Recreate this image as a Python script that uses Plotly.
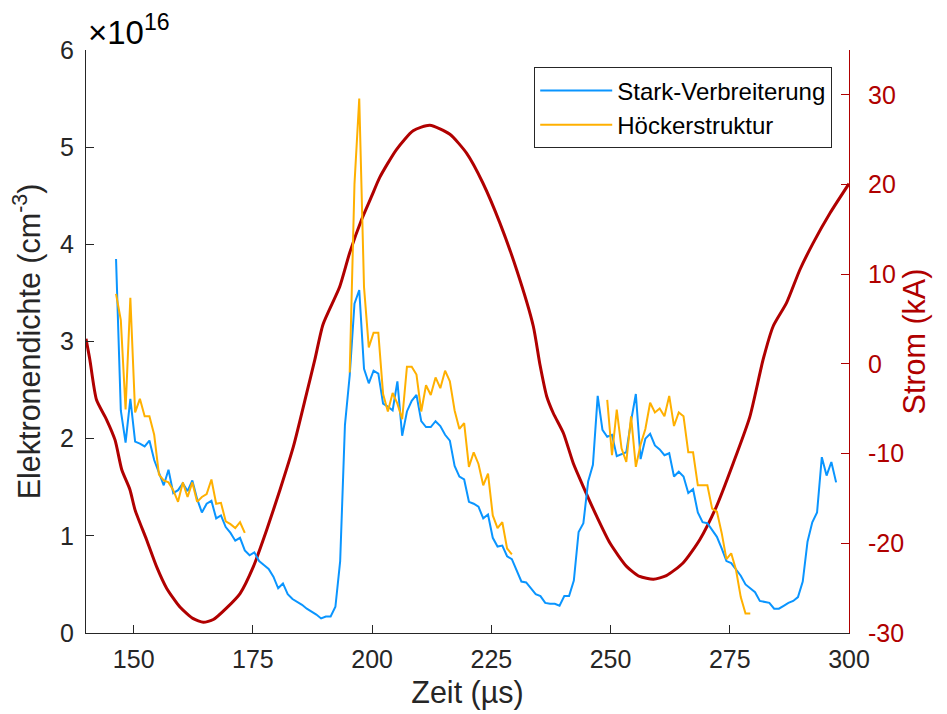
import plotly.graph_objects as go

# --- Electron density samples, 1 us spacing starting at t0 (values in 1e16 cm^-3) ---
t0_us = 146.3
dt_us = 1.0

stark_density = [
    3.85, 2.29, 1.96, 2.41, 1.97, 1.95, 1.92, 1.98, 1.78, 1.64,
    1.52, 1.68, 1.44, 1.47, 1.54, 1.46, 1.57, 1.38, 1.24, 1.33,
    1.36, 1.18, 1.21, 1.09, 1.03, 0.95, 0.98, 0.85, 0.80, 0.83,
    0.74, 0.70, 0.66, 0.58, 0.46, 0.51, 0.40, 0.35, 0.32, 0.29,
    0.25, 0.22, 0.19, 0.15, 0.17, 0.17, 0.27, 0.74, 2.14, 2.65,
    3.39, 3.53, 2.72, 2.57, 2.70, 2.67, 2.36, 2.33, 2.29, 2.59,
    2.03, 2.28, 2.39, 2.45, 2.18, 2.12, 2.12, 2.18, 2.13, 2.04,
    1.98, 1.72, 1.61, 1.58, 1.35, 1.33, 1.30, 1.18, 1.22, 0.98,
    0.89, 0.90, 0.79, 0.76, 0.65, 0.53, 0.52, 0.46, 0.40, 0.38,
    0.31, 0.30, 0.30, 0.28, 0.38, 0.38, 0.54, 1.04, 1.13, 1.56,
    1.73, 2.44, 2.09, 2.02, 2.04, 1.82, 1.84, 1.86, 2.18, 2.46,
    1.79, 2.00, 2.05, 1.93, 1.89, 1.83, 1.85, 1.61, 1.66, 1.61,
    1.44, 1.48, 1.24, 1.14, 1.13, 1.06, 0.99, 0.87, 0.74, 0.72,
    0.65, 0.59, 0.50, 0.46, 0.42, 0.33, 0.32, 0.31, 0.25, 0.25,
    0.28, 0.31, 0.33, 0.37, 0.53, 0.94, 1.14, 1.24, 1.81, 1.62,
    1.76, 1.55,
]

hoecker_density = (
    [3.49, 3.22, 2.30, 3.45, 2.27, 2.41, 2.23, 2.23, 2.04, 1.63,
     1.57, 1.55, 1.47, 1.35, 1.55, 1.40, 1.55, 1.35, 1.40, 1.43,
     1.58, 1.33, 1.34, 1.15, 1.12, 1.08, 1.14, 1.03]
    + [None] * 21
    + [2.68, 4.62, 5.50, 3.56, 2.94, 3.09, 3.09, 2.46, 2.28, 2.47,
       2.36, 2.20, 2.74, 2.74, 2.66, 2.28, 2.55, 2.45, 2.63, 2.52,
       2.70, 2.59, 2.29, 2.10, 2.16, 1.71, 1.86, 1.74, 1.52, 1.64,
       1.21, 1.08, 1.14, 0.87, 0.81]
    + [None] * 19
    + [2.40, 1.83, 2.30, 1.90, 1.76, 2.23, 1.71, 1.94, 2.10, 2.37,
       2.27, 2.31, 2.23, 2.44, 2.13, 2.27, 2.23, 1.86, 1.86, 1.52,
       1.52, 1.52, 1.28, 1.25, 1.03, 0.76, 0.82, 0.65, 0.37, 0.20,
       0.20]
    + [None] * 18
)

# --- Discharge current ---
strom_t_us = [
    140.0, 140.8, 142.2, 144.3, 146.1, 147.5, 149.2, 150.3, 152.7, 154.8,
    156.9, 159.7, 162.5, 164.6, 166.7, 169.5, 172.3, 175.1, 177.9, 180.7,
    183.5, 186.3, 188.0, 189.7, 193.2, 195.3, 197.8, 199.9, 201.6, 205.1,
    208.6, 212.1, 216.3, 219.8, 223.2, 226.8, 230.3, 233.8, 235.2, 236.6,
    238.0, 240.1, 242.2, 244.3, 247.1, 249.9, 253.4, 256.1, 259.0, 261.7,
    265.2, 268.7, 272.2, 275.7, 279.2, 282.0, 284.1, 286.9, 289.7, 292.5,
    296.0, 300.0,
]
strom_kA = [
    2.8, 0.5, -4.0, -6.2, -8.5, -11.8, -14.0, -16.3, -19.6, -22.6,
    -25.0, -27.1, -28.4, -28.8, -28.5, -27.2, -25.6, -22.6, -18.5, -14.0,
    -9.2, -3.2, 0.5, 4.4, 8.6, 12.4, 16.1, 18.7, 20.8, 23.9,
    26.0, 26.6, 25.6, 23.5, 20.2, 15.7, 10.5, 4.2, -0.1, -3.6,
    -5.5, -7.7, -11.1, -13.7, -17.0, -20.0, -22.6, -23.7, -24.0, -23.6,
    -22.2, -19.6, -15.9, -11.1, -5.9, 0.5, 4.2, 6.8, 10.5, 13.5,
    16.8, 20.1,
]

x_ticks = [150, 175, 200, 225, 250, 275, 300]
density_ticks = [0, 1, 2, 3, 4, 5, 6]
strom_ticks = [-30, -20, -10, 0, 10, 20, 30]
strom_ticktext = ["-30", "-20", "-10", "0", "10", "20", "30"]

t_density = [t0_us + i * dt_us for i in range(len(stark_density))]

BLUE = "#0A95FF"
YELLOW = "#FFB000"
DARKRED = "#B00000"
AXIS = "#262626"
FONT = "Liberation Sans, Arial, sans-serif"
TICK_SIZE = 25
TITLE_SIZE = 30.5

fig = go.Figure()

# Current on the primary (right-hand) axis so the density curves draw above it
fig.add_trace(go.Scatter(
    x=strom_t_us, y=strom_kA, mode="lines", yaxis="y",
    line=dict(color=DARKRED, width=3, shape="spline", smoothing=0.6),
    showlegend=False,
))
fig.add_trace(go.Scatter(
    x=t_density, y=stark_density, mode="lines", yaxis="y2",
    name="Stark-Verbreiterung", line=dict(color=BLUE, width=2),
))
fig.add_trace(go.Scatter(
    x=t_density, y=hoecker_density, mode="lines", yaxis="y2",
    name="Höckerstruktur", line=dict(color=YELLOW, width=2),
    connectgaps=False,
))

fig.update_layout(
    width=947, height=714,
    margin=dict(l=86, r=98, t=50, b=81),
    paper_bgcolor="white", plot_bgcolor="white",
    font=dict(family=FONT, size=TICK_SIZE, color=AXIS),
    xaxis=dict(
        range=[140, 300], tickvals=x_ticks, ticks="inside", ticklen=8,
        tickcolor=AXIS, showline=True, linecolor=AXIS, linewidth=1,
        showgrid=False, zeroline=False, ticklabelstandoff=4,
        tickfont=dict(size=TICK_SIZE, color=AXIS),
        title=dict(text="Zeit (µs)", font=dict(size=TITLE_SIZE, color=AXIS), standoff=9),
    ),
    yaxis=dict(
        side="right", range=[-30, 35], tickvals=strom_ticks,
        ticktext=strom_ticktext,
        ticks="inside", ticklen=8, tickcolor=DARKRED,
        showline=True, linecolor=DARKRED, linewidth=1,
        showgrid=False, zeroline=False, ticklabelstandoff=13,
        tickfont=dict(size=TICK_SIZE, color=DARKRED),
        title=dict(text="Strom (kA)", font=dict(size=TITLE_SIZE, color=DARKRED), standoff=0),
    ),
    yaxis2=dict(
        side="left", overlaying="y", range=[0, 6], tickvals=density_ticks,
        ticks="inside", ticklen=8, tickcolor=AXIS,
        showline=True, linecolor=AXIS, linewidth=1,
        showgrid=False, zeroline=False, ticklabelstandoff=6,
        tickfont=dict(size=TICK_SIZE, color=AXIS),
        title=dict(text="Elektronendichte (cm<sup>-3</sup>)",
                   font=dict(size=TITLE_SIZE, color=AXIS), standoff=10),
    ),
    legend=dict(
        x=0.978, y=0.97, xanchor="right", yanchor="top",
        bgcolor="white", bordercolor=AXIS, borderwidth=1,
        font=dict(size=24, color="black"), tracegroupgap=0,
        itemwidth=72,
    ),
    annotations=[dict(
        text="×10<sup>16</sup>", xref="paper", yref="paper",
        x=0.0, y=1.0, xanchor="left", yanchor="bottom", showarrow=False,
        font=dict(size=33, color="black"), yshift=-3,
    )],
)

fig.write_html("out.html")
